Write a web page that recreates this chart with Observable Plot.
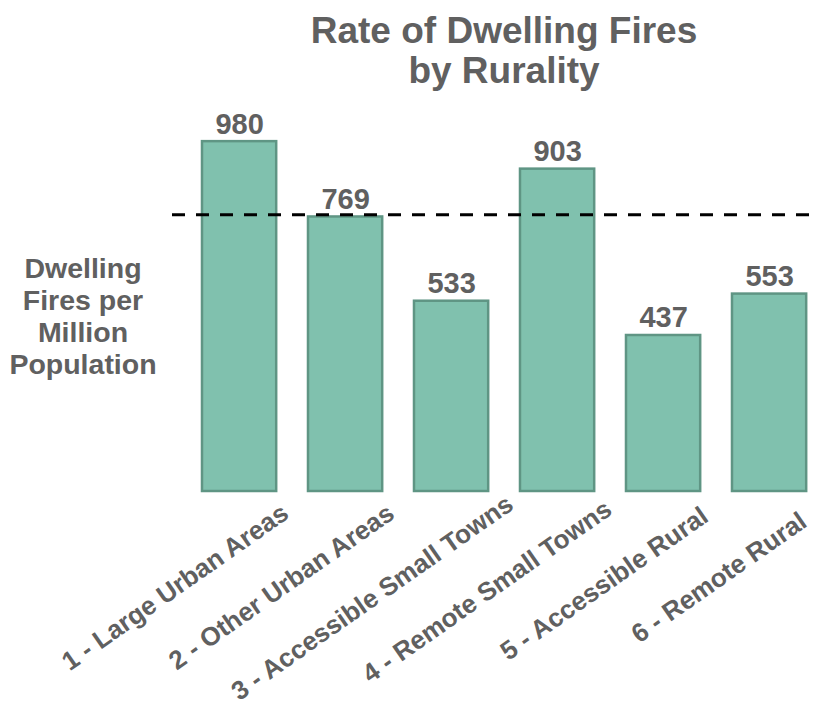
<!DOCTYPE html>
<html>
<head>
<meta charset="utf-8">
<script src="https://cdn.jsdelivr.net/npm/d3@7"></script>
<script src="https://cdn.jsdelivr.net/npm/@observablehq/plot@0.6"></script>
<style>
  html, body { margin: 0; padding: 0; background: #fff; }
  #page { position: relative; width: 817px; height: 716px; overflow: hidden; background: #fff;
          font-family: "Liberation Sans", Arial, sans-serif; font-weight: bold; color: #606060; }
  #title { position: absolute; left: 191px; width: 626px; top: 11px; text-align: center;
           font-size: 37px; line-height: 40px; z-index: 2; }
  #ylabel { position: absolute; left: 0; width: 166px; top: 252px; text-align: center;
            font-size: 28.5px; line-height: 32px; z-index: 2; }
  #chart { position: absolute; left: 0; top: 100px; z-index: 1; }
</style>
</head>
<body>
<div id="page">
  <div id="chart"></div>
  <div id="title">Rate of Dwelling Fires<br>by Rurality</div>
  <div id="ylabel">Dwelling<br>Fires per<br>Million<br>Population</div>
</div>
<script>
const categories = [
  "1 - Large Urban Areas",
  "2 - Other Urban Areas",
  "3 - Accessible Small Towns",
  "4 - Remote Small Towns",
  "5 - Accessible Rural",
  "6 - Remote Rural"
];
const rates = [980, 769, 533, 903, 437, 553];
const averageRate = 775;

const data = categories.map((c, i) => ({category: c, rate: rates[i]}));

const textColor = "#606060";

const chart = Plot.plot({
  width: 817,
  height: 616,
  marginLeft: 172,
  marginRight: 0,
  marginTop: 34,
  marginBottom: 225,
  style: {fontFamily: "'Liberation Sans', Arial, sans-serif", background: "transparent", overflow: "visible"},
  x: {domain: categories, axis: null, paddingInner: 0.3, paddingOuter: 0.1925, align: 0.735, round: false},
  y: {domain: [0, 1000], axis: null},
  marks: [
    Plot.barY(data, {x: "category", y: "rate", fill: "#80c1ae", stroke: "#5f9584", strokeWidth: 2.5}),
    Plot.ruleY([averageRate], {stroke: "#000", strokeWidth: 3, strokeDasharray: "13,11"}),
    Plot.text(data, {x: "category", y: "rate", text: d => String(d.rate), lineAnchor: "bottom", dy: -8,
      fontSize: 29, fontWeight: "bold", fill: textColor}),
    Plot.text(categories, {x: d => d, frameAnchor: "bottom", rotate: -35, textAnchor: "end",
      lineAnchor: "bottom", dy: 61, fontSize: 26, fontWeight: "bold", fill: textColor})
  ]
});
document.getElementById("chart").append(chart);

// shift each rotated category label so the bar centre falls 77% along its baseline
chart.querySelectorAll("text").forEach(t => {
  if (categories.includes(t.textContent)) {
    const L = t.getComputedTextLength();
    t.setAttribute("x", (0.23 * L).toFixed(1));
  }
});
</script>
</body>
</html>
